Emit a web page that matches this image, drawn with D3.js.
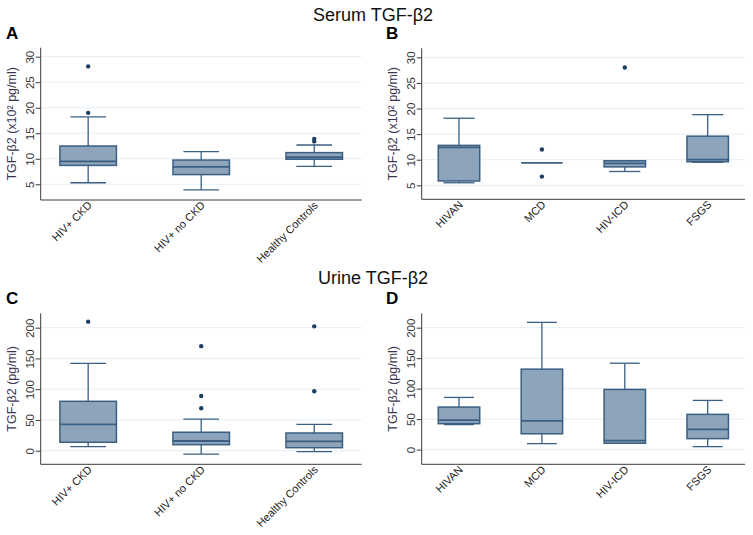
<!DOCTYPE html>
<html><head><meta charset="utf-8">
<script src="https://cdn.jsdelivr.net/npm/d3@7"></script>
<style>body{margin:0;background:#fff}svg{display:block}text{font-family:"Liberation Sans",Arial,sans-serif}</style>
</head><body><svg id="c" width="753" height="535"></svg>
<script>
// ---- data ----
const groupsLeft = ["HIV+ CKD", "HIV+ no CKD", "Healthy Controls"];
const groupsRight = ["HIVAN", "MCD", "HIV-ICD", "FSGS"];

const serumTicks = [5, 10, 15, 20, 25, 30];
const urineTicks = [0, 50, 100, 150, 200];

// Panel A: Serum, by group
const aLow = [5.3, 3.9, 8.5];
const aQ1 = [8.7, 6.9, 9.9];
const aMed = [9.5, 8.4, 10.3];
const aQ3 = [12.5, 9.75, 11.2];
const aHigh = [18.2, 11.4, 12.7];
const aOut = [[19, 28.1], [], [13.4, 13.9]];

// Panel B: Serum, by histology
const bLow = [5.5, 9.4, 7.7, 9.5];
const bQ1 = [5.85, 9.4, 8.6, 9.6];
const bMed = [12.4, 9.4, 9.3, 10.0];
const bQ3 = [12.8, 9.4, 9.8, 14.6];
const bHigh = [18.1, 9.4, 9.8, 18.8];
const bOut = [[], [12, 6.7], [28], []];

// Panel C: Urine, by group
const cLow = [6.5, -5.4, -1.6];
const cQ1 = [13.7, 9.8, 4.9];
const cMed = [42.9, 15.8, 15.2];
const cQ3 = [80.3, 30, 28.8];
const cHigh = [142, 51.5, 42.9];
const cOut = [[209.8], [170, 89, 69], [202.2, 96.6]];

// Panel D: Urine, by histology
const dLow = [41, 9.8, 10.4, 4.9];
const dQ1 = [42.5, 26, 10.4, 18];
const dMed = [48.5, 47, 14.7, 33.3];
const dQ3 = [69.8, 132, 98.7, 57.8];
const dHigh = [85.6, 208.7, 141.7, 80.7];
const dOut = [[], [], [], []];

const serumLabel = "TGF-β2 (x10² pg/ml)";
const urineLabel = "TGF-β2 (pg/ml)";

// ---- drawing ----
const svg = d3.select("#c");
const FILL = "#8ea4ba", STROKE = "#3a5f82", DOT = "#1d3d62", GRID = "#e5eef4", AX = "#3a3a3a";

function build(cats, lo, q1, med, q3, hi, out) {
  return cats.map((c, i) => ({cat: c, lo: lo[i], q1: q1[i], med: med[i], q3: q3[i], hi: hi[i], out: out[i]}));
}

function panel(o) {
  const g = svg.append("g");
  const x = d3.scalePoint().domain(o.data.map(d => d.cat)).range([o.left, o.right]).padding(o.pad);
  const y = d3.scaleLinear().domain(o.domain).range([o.bottom, o.top]);
  const bw = x.step() * 0.5;
  const cw = bw * o.cap;

  // gridlines
  g.selectAll(".grid").data(o.ticks).join("line")
    .attr("x1", o.left + 1).attr("x2", o.right)
    .attr("y1", d => y(d)).attr("y2", d => y(d))
    .attr("stroke", GRID).attr("stroke-width", 1);

  // axes
  const ya = d3.axisLeft(y).tickValues(o.ticks).tickSize(5).tickFormat(d3.format("d"));
  const yg = g.append("g").attr("transform", `translate(${o.left},0)`).call(ya);
  yg.select(".domain").remove();
  yg.selectAll(".tick line").attr("stroke", AX);
  yg.selectAll(".tick text").attr("transform", "rotate(-90)").attr("x", 0).attr("y", -7)
    .attr("dy", 0).attr("text-anchor", "middle").attr("fill", "#333").style("font-size", "11.5px");

  g.append("line").attr("x1", o.left).attr("x2", o.left).attr("y1", o.top).attr("y2", o.bottom).attr("stroke", AX);
  g.append("line").attr("x1", o.left).attr("x2", o.right).attr("y1", o.bottom).attr("y2", o.bottom).attr("stroke", AX);

  const xa = d3.axisBottom(x).tickSize(0).tickPadding(0);
  const xg = g.append("g").attr("transform", `translate(0,${o.bottom})`).call(xa);
  xg.select(".domain").remove();
  xg.selectAll(".tick text").attr("text-anchor", "end").attr("fill", "#222").style("font-size", "11px")
    .attr("y", 0).attr("dy", 0)
    .attr("transform", "translate(4,6) rotate(-45)");

  // y label
  g.append("text").attr("transform", `translate(${o.left - 25},${(o.top + o.bottom) / 2}) rotate(-90)`)
    .attr("text-anchor", "middle").attr("fill", "#3b3552").style("font-size", "12.5px").text(o.ylabel);

  // panel letter
  g.append("text").attr("x", o.letterX).attr("y", o.letterY).style("font-size", "17px").style("font-weight", "bold")
    .attr("fill", "#000").text(o.letter);

  // boxes
  const b = g.selectAll(".box").data(o.data).join("g");
  b.append("line").attr("x1", d => x(d.cat)).attr("x2", d => x(d.cat))
    .attr("y1", d => y(d.hi)).attr("y2", d => y(d.q3)).attr("stroke", STROKE).attr("stroke-width", 1.3);
  b.append("line").attr("x1", d => x(d.cat)).attr("x2", d => x(d.cat))
    .attr("y1", d => y(d.lo)).attr("y2", d => y(d.q1)).attr("stroke", STROKE).attr("stroke-width", 1.3);
  b.filter(d => d.hi > d.q3).append("line").attr("x1", d => x(d.cat) - cw / 2).attr("x2", d => x(d.cat) + cw / 2)
    .attr("y1", d => y(d.hi)).attr("y2", d => y(d.hi)).attr("stroke", STROKE).attr("stroke-width", 1.3);
  b.filter(d => d.lo < d.q1).append("line").attr("x1", d => x(d.cat) - cw / 2).attr("x2", d => x(d.cat) + cw / 2)
    .attr("y1", d => y(d.lo)).attr("y2", d => y(d.lo)).attr("stroke", STROKE).attr("stroke-width", 1.3);
  b.append("rect").attr("x", d => x(d.cat) - bw / 2).attr("width", bw)
    .attr("y", d => y(d.q3)).attr("height", d => Math.max(0, y(d.q1) - y(d.q3)))
    .attr("fill", FILL).attr("stroke", STROKE).attr("stroke-width", 1.5);
  b.append("line").attr("x1", d => x(d.cat) - bw / 2).attr("x2", d => x(d.cat) + bw / 2)
    .attr("y1", d => y(d.med)).attr("y2", d => y(d.med)).attr("stroke", STROKE).attr("stroke-width", 1.8);
  b.selectAll("circle").data(d => d.out.map(v => ({cat: d.cat, v}))).join("circle")
    .attr("cx", d => x(d.cat)).attr("cy", d => y(d.v)).attr("r", 2.2).attr("fill", DOT);
}

// titles
svg.append("text").attr("x", 373).attr("y", 21).attr("text-anchor", "middle").style("font-size", "18px").attr("fill", "#111").text("Serum TGF-β2");
svg.append("text").attr("x", 373).attr("y", 284).attr("text-anchor", "middle").style("font-size", "18px").attr("fill", "#111").text("Urine TGF-β2");

panel({data: build(groupsLeft, aLow, aQ1, aMed, aQ3, aHigh, aOut), left: 40.7, right: 361.7, top: 47.7, bottom: 200,
  domain: [1.92, 31.76], ticks: serumTicks, pad: 0.42, cap: 0.63, ylabel: serumLabel, letter: "A", letterX: 6, letterY: 39});
panel({data: build(groupsRight, bLow, bQ1, bMed, bQ3, bHigh, bOut), left: 421.7, right: 745, top: 48.3, bottom: 199.3,
  domain: [2.27, 31.76], ticks: serumTicks, pad: 0.45, cap: 0.75, ylabel: serumLabel, letter: "B", letterX: 386, letterY: 39});
panel({data: build(groupsLeft, cLow, cQ1, cMed, cQ3, cHigh, cOut), left: 40.7, right: 361.7, top: 313.3, bottom: 464.3,
  domain: [-22.1, 223.4], ticks: urineTicks, pad: 0.42, cap: 0.63, ylabel: urineLabel, letter: "C", letterX: 6, letterY: 304});
panel({data: build(groupsRight, dLow, dQ1, dMed, dQ3, dHigh, dOut), left: 421.7, right: 745, top: 313.3, bottom: 464.3,
  domain: [-24.1, 223.6], ticks: urineTicks, pad: 0.45, cap: 0.72, ylabel: urineLabel, letter: "D", letterX: 386, letterY: 304});
</script></body></html>
